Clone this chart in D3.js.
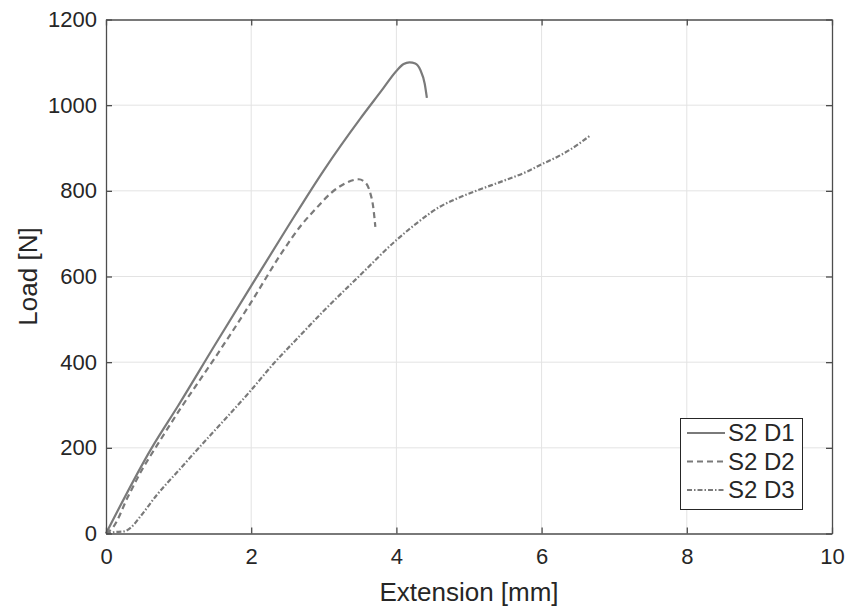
<!DOCTYPE html>
<html>
<head>
<meta charset="utf-8">
<script src="https://cdn.jsdelivr.net/npm/d3@7"></script>
<style>
  body { margin: 0; background: #fff; }
  svg text { font-family: "Liberation Sans", Arial, sans-serif; fill: #262626; }
</style>
</head>
<body>
<div id="chart"></div>
<script>
// extension [mm] / load [N]
const d1X = [0, 0.63, 1.0, 1.5, 2.0, 2.5, 3.0, 3.5, 3.8, 4.0, 4.1, 4.18, 4.26, 4.33, 4.39, 4.42];
const d1Y = [0, 200, 300, 440, 578, 715, 848, 968, 1035, 1080, 1096, 1100, 1097, 1082, 1050, 1017];

const d2X = [0, 0.1, 0.3, 0.5, 0.7, 1.0, 1.5, 2.0, 2.4, 2.7, 2.9, 3.1, 3.3, 3.48, 3.58, 3.64, 3.68, 3.71];
const d2Y = [0, 15, 85, 150, 205, 285, 410, 540, 650, 722, 760, 795, 818, 827, 818, 795, 763, 716];

const d3X = [0, 0.1, 0.25, 0.35, 0.47, 0.7, 1.0, 1.3, 1.7, 2.0, 2.3, 2.65, 3.0, 3.5, 4.0, 4.33, 4.6, 4.78, 5.1, 5.5, 5.8, 6.0, 6.2, 6.4, 6.66];
const d3Y = [0, 3, 5, 15, 39, 90, 147, 204, 278, 335, 395, 458, 520, 603, 685, 731, 763, 778, 800, 825, 845, 862, 878, 897, 928];

const seriesNames = ["S2 D1", "S2 D2", "S2 D3"];
const xTicks = [0, 2, 4, 6, 8, 10];
const yTicks = [0, 200, 400, 600, 800, 1000, 1200];

const width = 851, height = 608;
const mLeft = 106, mRight = 832, mTop = 19.5, mBottom = 533.5;

const svg = d3.select("#chart").append("svg")
  .attr("width", width)
  .attr("height", height);

const x = d3.scaleLinear().domain([0, 10]).range([mLeft, mRight]);
const y = d3.scaleLinear().domain([0, 1200]).range([mBottom, mTop]);

// grid
svg.append("g").selectAll("line").data(xTicks.slice(1, -1)).enter().append("line")
  .attr("x1", d => x(d)).attr("x2", d => x(d))
  .attr("y1", mTop).attr("y2", mBottom)
  .attr("stroke", "#e3e3e3").attr("stroke-width", 1);
svg.append("g").selectAll("line").data(yTicks.slice(1, -1)).enter().append("line")
  .attr("x1", mLeft).attr("x2", mRight)
  .attr("y1", d => y(d)).attr("y2", d => y(d))
  .attr("stroke", "#e3e3e3").attr("stroke-width", 1);

// curves
const dashes = [null, "6,4", "5,2,1.5,2"];
const series = [
  d1X.map((v, i) => [v, d1Y[i]]),
  d2X.map((v, i) => [v, d2Y[i]]),
  d3X.map((v, i) => [v, d3Y[i]])
];
const line = d3.line().x(d => x(d[0])).y(d => y(d[1])).curve(d3.curveMonotoneX);

series.forEach((s, i) => {
  svg.append("path")
    .datum(s)
    .attr("d", line)
    .attr("fill", "none")
    .attr("stroke", "#7a7a7a")
    .attr("stroke-width", 2.2)
    .attr("stroke-dasharray", dashes[i]);
});

// axes (box with inward ticks on all sides)
const axisColor = "#4d4d4d";
const tl = 6;
const fmt = d3.format("d");

const xb = svg.append("g").attr("transform", `translate(0,${mBottom})`)
  .call(d3.axisBottom(x).tickValues(xTicks).tickSizeInner(-tl).tickSizeOuter(0).tickPadding(15).tickFormat(fmt));
const xt = svg.append("g").attr("transform", `translate(0,${mTop})`)
  .call(d3.axisTop(x).tickValues(xTicks).tickSizeInner(-tl).tickSizeOuter(0).tickFormat(""));
const yl = svg.append("g").attr("transform", `translate(${mLeft},0)`)
  .call(d3.axisLeft(y).tickValues(yTicks).tickSizeInner(-tl).tickSizeOuter(0).tickPadding(9).tickFormat(fmt));
const yr = svg.append("g").attr("transform", `translate(${mRight},0)`)
  .call(d3.axisRight(y).tickValues(yTicks).tickSizeInner(-tl).tickSizeOuter(0).tickFormat(""));

[xb, xt, yl, yr].forEach(g => {
  g.select(".domain").attr("stroke", axisColor).attr("stroke-width", 1.3);
  g.selectAll(".tick line").attr("stroke", axisColor).attr("stroke-width", 1.3);
  g.selectAll("text").attr("fill", "#262626").style("font-size", "22px")
    .style("font-family", "'Liberation Sans', Arial, sans-serif");
});

// axis titles
svg.append("text")
  .attr("x", x(5)).attr("y", 601)
  .attr("text-anchor", "middle")
  .style("font-size", "26px")
  .text("Extension [mm]");
svg.append("text")
  .attr("transform", `translate(37,${(mTop + mBottom) / 2}) rotate(-90)`)
  .attr("text-anchor", "middle")
  .style("font-size", "26px")
  .text("Load [N]");

// legend
const lg = svg.append("g");
lg.append("rect")
  .attr("x", 680.5).attr("y", 418.5).attr("width", 122).attr("height", 91)
  .attr("fill", "#fff").attr("stroke", "#262626").attr("stroke-width", 1);
seriesNames.forEach((name, i) => {
  const cy = 433 + i * 28.5;
  lg.append("line")
    .attr("x1", 687).attr("x2", 725).attr("y1", cy).attr("y2", cy)
    .attr("stroke", "#7a7a7a").attr("stroke-width", 2.2)
    .attr("stroke-dasharray", dashes[i]);
  lg.append("text")
    .attr("x", 728).attr("y", cy)
    .attr("dy", "0.35em")
    .style("font-size", "24px")
    .text(name);
});
</script>
</body>
</html>
